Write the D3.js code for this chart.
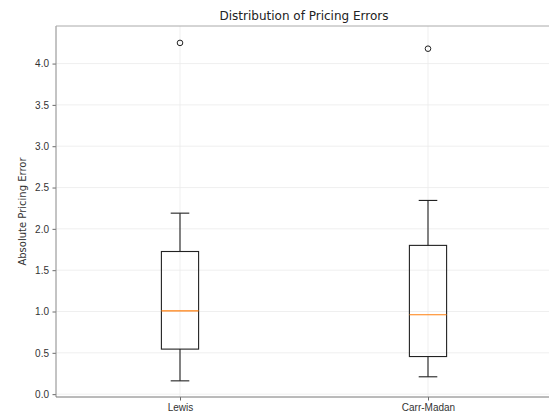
<!DOCTYPE html>
<html><head><meta charset="utf-8">
<script src="https://cdn.jsdelivr.net/npm/d3@7"></script>
<style>body{margin:0;background:#fff}svg{display:block;font-family:"DejaVu Sans",sans-serif}</style>
</head><body><svg id="c" width="549" height="414"></svg>
<script>
const categories = ["Lewis", "Carr-Madan"];
const whiskerLow = [0.161, 0.21];
const q1 = [0.545, 0.455];
const median = [1.008, 0.96];
const q3 = [1.726, 1.80];
const whiskerHigh = [2.19, 2.344];
const outliers = [[4.25], [4.18]];
const yTicks = [0.0, 0.5, 1.0, 1.5, 2.0, 2.5, 3.0, 3.5, 4.0];

const svg = d3.select("#c");
const L = 56, R = 552, T = 26, B = 397;
const x = d3.scaleLinear().domain([0.5, 2.5]).range([L, R]);
const y = d3.scaleLinear().domain([-0.0345, 4.4545]).range([B, T]);

// grid
const g = svg.append("g");
g.selectAll(".gy").data(yTicks).join("line")
  .attr("x1", L).attr("x2", R).attr("y1", d => y(d)).attr("y2", d => y(d))
  .attr("stroke", "#ebebeb").attr("stroke-width", 0.8);
g.selectAll(".gx").data(categories).join("line")
  .attr("x1", (d,i) => x(i+1)).attr("x2", (d,i) => x(i+1)).attr("y1", T).attr("y2", B)
  .attr("stroke", "#ebebeb").attr("stroke-width", 0.8);

// axes
const yAxis = d3.axisLeft(y).tickValues(yTicks).tickFormat(d3.format(".1f")).tickSize(3.5).tickPadding(3.5);
const ya = svg.append("g").attr("transform", `translate(${L},0)`).call(yAxis);
ya.select(".domain").remove();
ya.selectAll("line").attr("stroke", "#444").attr("stroke-width", 0.8);
ya.selectAll("text").attr("font-size", 10).attr("fill", "#333");

const xAxis = d3.axisBottom(x).tickValues([1, 2]).tickFormat((d) => categories[d-1]).tickSize(3.5).tickPadding(3.5);
const xa = svg.append("g").attr("transform", `translate(0,${B})`).call(xAxis);
xa.select(".domain").remove();
xa.selectAll("line").attr("stroke", "#444").attr("stroke-width", 0.8);
xa.selectAll("text").attr("font-size", 10).attr("fill", "#333");

// spines
svg.append("line").attr("x1", L).attr("x2", L).attr("y1", T).attr("y2", B).attr("stroke", "#888").attr("stroke-width", 1);
svg.append("line").attr("x1", L).attr("x2", R).attr("y1", B).attr("y2", B).attr("stroke", "#777").attr("stroke-width", 1);
svg.append("line").attr("x1", L).attr("x2", R).attr("y1", T).attr("y2", T).attr("stroke", "#aaa").attr("stroke-width", 1);
svg.append("line").attr("x1", R).attr("x2", R).attr("y1", T).attr("y2", B).attr("stroke", "#aaa").attr("stroke-width", 1);

// boxes
const bw = x(1.075) - x(1);
const capw = x(1.0375) - x(1);
categories.forEach((c, i) => {
  const cx = x(i+1);
  const bg = svg.append("g").attr("stroke", "#222").attr("stroke-width", 1.1).attr("fill", "none");
  bg.append("rect").attr("x", cx - bw).attr("width", 2*bw)
    .attr("y", y(q3[i])).attr("height", y(q1[i]) - y(q3[i]));
  bg.append("line").attr("x1", cx).attr("x2", cx).attr("y1", y(q3[i])).attr("y2", y(whiskerHigh[i]));
  bg.append("line").attr("x1", cx).attr("x2", cx).attr("y1", y(q1[i])).attr("y2", y(whiskerLow[i]));
  bg.append("line").attr("x1", cx-capw).attr("x2", cx+capw).attr("y1", y(whiskerHigh[i])).attr("y2", y(whiskerHigh[i]));
  bg.append("line").attr("x1", cx-capw).attr("x2", cx+capw).attr("y1", y(whiskerLow[i])).attr("y2", y(whiskerLow[i]));
  svg.append("line").attr("x1", cx-bw).attr("x2", cx+bw).attr("y1", y(median[i])).attr("y2", y(median[i]))
    .attr("stroke", "#ff7f0e").attr("stroke-width", 1.1);
  svg.selectAll(null).data(outliers[i]).join("circle")
    .attr("cx", cx).attr("cy", d => y(d)).attr("r", 2.8)
    .attr("fill", "none").attr("stroke", "#222").attr("stroke-width", 1);
});

// title & label
svg.append("text").attr("x", (L+R)/2).attr("y", 20).attr("text-anchor", "middle")
  .attr("font-size", 12).attr("fill", "#222").text("Distribution of Pricing Errors");
svg.append("text").attr("transform", `translate(25.5,${(T+B)/2}) rotate(-90)`).attr("text-anchor", "middle")
  .attr("font-size", 10).attr("fill", "#333").text("Absolute Pricing Error");
</script></body></html>
